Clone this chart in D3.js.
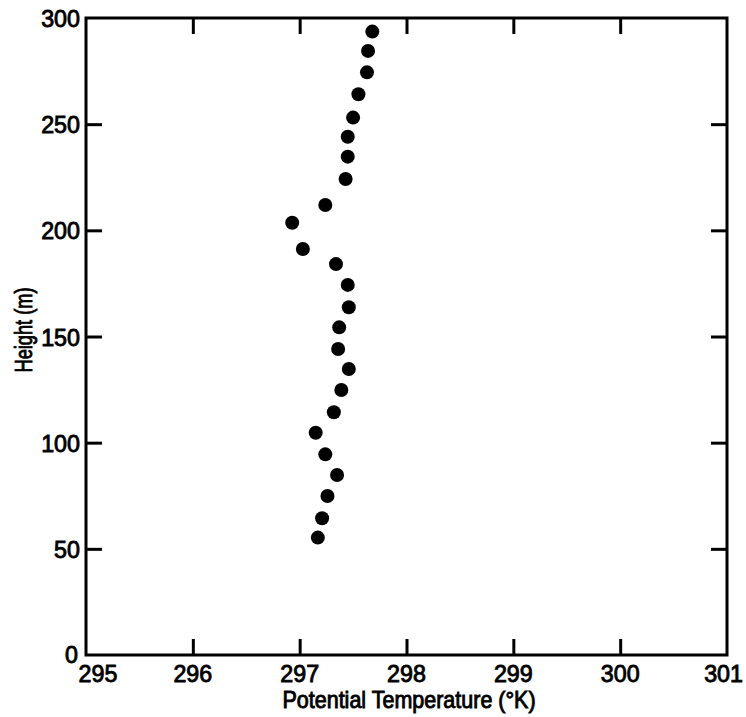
<!DOCTYPE html>
<html>
<head>
<meta charset="utf-8">
<script src="https://cdn.jsdelivr.net/npm/d3@7/dist/d3.min.js"></script>
<style>
  html, body { margin: 0; padding: 0; background: #fff; }
  svg { display: block; }
  text { font-family: "Liberation Sans", Arial, sans-serif; fill: #000; stroke: #000; stroke-width: 0.9px; }
</style>
</head>
<body>
<svg id="chart" width="746" height="717"></svg>
<script>
// Potential temperature profile (°K) against height (m)
const heights = [293.6, 284.5, 274.4, 264.1, 253.1, 244.1, 234.7, 224.2, 211.9, 203.6,
                 191.2, 184.1, 174.3, 163.8, 154.3, 144.1, 134.7, 124.8, 114.3, 104.7,
                 94.5, 84.8, 74.9, 64.4, 55.3];
const thetas  = [297.68, 297.64, 297.63, 297.55, 297.50, 297.45, 297.45, 297.43, 297.24, 296.93,
                 297.03, 297.34, 297.45, 297.46, 297.37, 297.36, 297.46, 297.39, 297.32, 297.15,
                 297.24, 297.35, 297.26, 297.21, 297.17];
const xTicks = [295, 296, 297, 298, 299, 300, 301];
const yTicks = [0, 50, 100, 150, 200, 250, 300];

const margin = { left: 86, top: 18, right: 19, bottom: 62 };
const W = 746, H = 717;
const iw = W - margin.left - margin.right;
const ih = H - margin.top - margin.bottom;

const svg = d3.select("#chart");
const g = svg.append("g").attr("transform", `translate(${margin.left},${margin.top})`);

const x = d3.scaleLinear().domain([295, 301]).range([0, iw]);
const y = d3.scaleLinear().domain([0, 300]).range([ih, 0]);

const tickLen = 16;
const inner = xTicks.slice(1, -1);
const innerY = yTicks.slice(1, -1);

// inward ticks on all four sides
function styleAxis(sel) {
  sel.select(".domain").remove();
  sel.selectAll(".tick line").attr("stroke", "#000").attr("stroke-width", 3);
}
g.append("g").attr("transform", `translate(0,${ih})`)
  .call(d3.axisBottom(x).tickValues(inner).tickSize(-tickLen).tickFormat(""))
  .call(styleAxis);
g.append("g")
  .call(d3.axisTop(x).tickValues(inner).tickSize(-tickLen).tickFormat(""))
  .call(styleAxis);
g.append("g")
  .call(d3.axisLeft(y).tickValues(innerY).tickSize(-tickLen).tickFormat(""))
  .call(styleAxis);
g.append("g").attr("transform", `translate(${iw},0)`)
  .call(d3.axisRight(y).tickValues(innerY).tickSize(-tickLen).tickFormat(""))
  .call(styleAxis);

// frame
g.append("rect").attr("x", 0).attr("y", 0).attr("width", iw).attr("height", ih)
  .attr("fill", "none").attr("stroke", "#000").attr("stroke-width", 3);

// condensed lettering: place at (px,py), squeeze horizontally by sx, optional rotation
function label(parent, px, py, txt, size, sx, anchor, rot) {
  return parent.append("text")
    .attr("transform", `translate(${px},${py})${rot ? ` rotate(${rot})` : ""} scale(${sx},1)`)
    .attr("text-anchor", anchor)
    .attr("font-size", size)
    .text(txt);
}

// tick labels
const fs = 24, sxNum = 0.97;
xTicks.forEach((d, i) => {
  if (i === xTicks.length - 1) {
    label(g, iw + 16, ih + 27, d, fs, sxNum, "end");
  } else {
    label(g, x(d) + (i === 0 ? 12 : 0), ih + 27, d, fs, sxNum, "middle");
  }
});
yTicks.forEach(d => {
  label(g, d === 0 ? -8 : -6, y(d) + (d === 0 ? 8 : 9), d, fs, sxNum, "end");
});

// axis titles
label(svg, 409, H - 9, "Potential Temperature (°K)", 23, 0.935, "middle");
label(svg, 32, 330, "Height (m)", 24, 0.76, "middle", -90);

// observations
g.selectAll("circle").data(heights).join("circle")
  .attr("cx", (d, i) => x(thetas[i]))
  .attr("cy", d => y(d))
  .attr("r", 7)
  .attr("fill", "#000");
</script>
</body>
</html>
